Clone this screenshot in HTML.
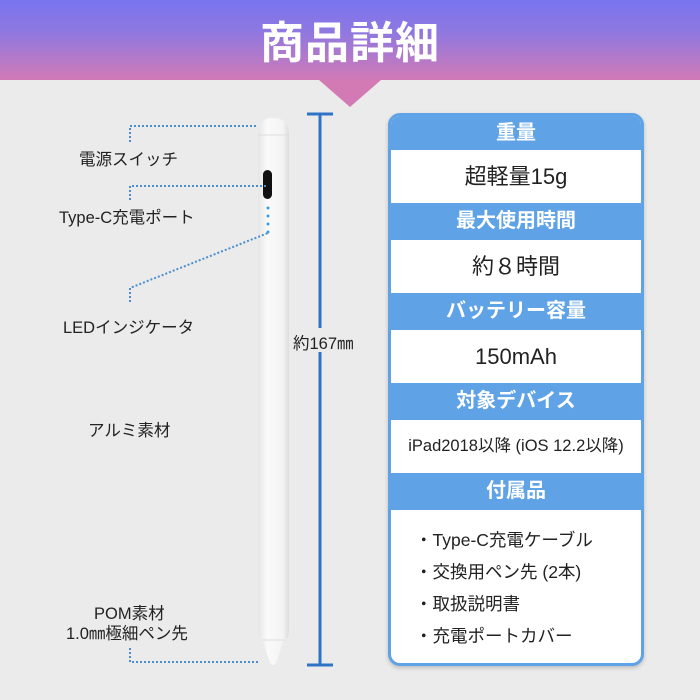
<!DOCTYPE html>
<html><head><meta charset="utf-8"><style>
body{margin:0;width:700px;height:700px;overflow:hidden;background:#ebebeb;font-family:"Liberation Sans","Noto Sans CJK JP",sans-serif;position:relative}
.ban{position:absolute;left:0;top:0;width:700px;height:80px;background:linear-gradient(#7874ef,#8f78e0 40%,#d17ab6)}
.tri{position:absolute;left:319px;top:80px;width:0;height:0;border-left:31px solid transparent;border-right:31px solid transparent;border-top:27px solid #d379b4}
.title{position:absolute;left:0;width:700px;top:14px;text-align:center;color:#fff;font-size:44px;font-weight:bold;letter-spacing:1px;line-height:60px}
.lbl{position:absolute;color:#222;font-size:16.5px;white-space:nowrap}
.tbl{position:absolute;left:388px;top:113px;width:250px;height:547px;border:3px solid #5fa3e6;border-radius:12px;background:#fff;overflow:hidden;box-shadow:0 2px 4px rgba(0,0,0,.2)}
.h{background:#5fa3e6;color:#fff;height:37px;line-height:37px;text-align:center;font-size:20px;font-weight:bold}
.c{height:53px;line-height:53px;text-align:center;font-size:22px;color:#222}
</style></head><body>
<div class="ban"></div><div class="tri"></div>
<div class="title">商品詳細</div>
<svg width="700" height="700" style="position:absolute;left:0;top:0">
<defs><linearGradient id="pg" x1="0" x2="1"><stop offset="0" stop-color="#e6e6e6"/><stop offset=".3" stop-color="#fafafa"/><stop offset=".8" stop-color="#f4f4f4"/><stop offset="1" stop-color="#dcdcdc"/></linearGradient></defs>
<path d="M258 135 Q258 118 273 118 Q289 118 289 135 L289 630 Q289 640 283 642 L276 663 Q273 667 270 663 L263 642 Q258 640 258 630 Z" fill="url(#pg)"/>
<line x1="258" y1="135" x2="289" y2="135" stroke="#ddd"/>
<line x1="262" y1="640" x2="285" y2="640" stroke="#ddd"/>
<rect x="263" y="170" width="9" height="29" rx="4.5" fill="#111"/>
<g fill="#3aa0d8"><circle cx="268" cy="208" r="1.5"/><circle cx="268" cy="216" r="1.5"/><circle cx="268" cy="224" r="1.5"/><circle cx="268" cy="232" r="1.5"/></g>
<g stroke="#4a8fd0" stroke-width="2" fill="none" stroke-dasharray="2 2">
<polyline points="130,142 130,126 258,126"/>
<polyline points="130,200 130,186 266,186"/>
<polyline points="130,302 130,288 268,233"/>
<polyline points="130,648 130,662 260,662"/>
</g>
<g stroke="#2f74c4" stroke-width="3"><line x1="320" y1="114" x2="320" y2="328"/><line x1="320" y1="352" x2="320" y2="665"/><line x1="307" y1="114" x2="333" y2="114"/><line x1="307" y1="665" x2="333" y2="665"/></g>
</svg>
<div class="lbl" style="left:79px;top:146px">電源スイッチ</div>
<div class="lbl" style="left:59px;top:204px">Type-C充電ポート</div>
<div class="lbl" style="left:63px;top:314px">LEDインジケータ</div>
<div class="lbl" style="left:88px;top:417px">アルミ素材</div>
<div class="lbl" style="left:293px;top:330px">約167㎜</div>
<div class="lbl" style="left:94px;top:600px">POM素材</div>
<div class="lbl" style="left:66px;top:620px">1.0㎜極細ペン先</div>
<div class="tbl">
<div class="h" style="height:34px;line-height:34px">重量</div><div class="c">超軽量15g</div>
<div class="h">最大使用時間</div><div class="c">約８時間</div>
<div class="h">バッテリー容量</div><div class="c">150mAh</div>
<div class="h">対象デバイス</div><div class="c" style="font-size:16.5px">iPad2018以降 (iOS 12.2以降)</div>
<div class="h">付属品</div>
<div style="padding:14px 0 0 24px;font-size:17.5px;color:#222;line-height:32px">
<div>・Type-C充電ケーブル</div><div>・交換用ペン先 (2本)</div><div>・取扱説明書</div><div>・充電ポートカバー</div></div>
</div>
</body></html>
